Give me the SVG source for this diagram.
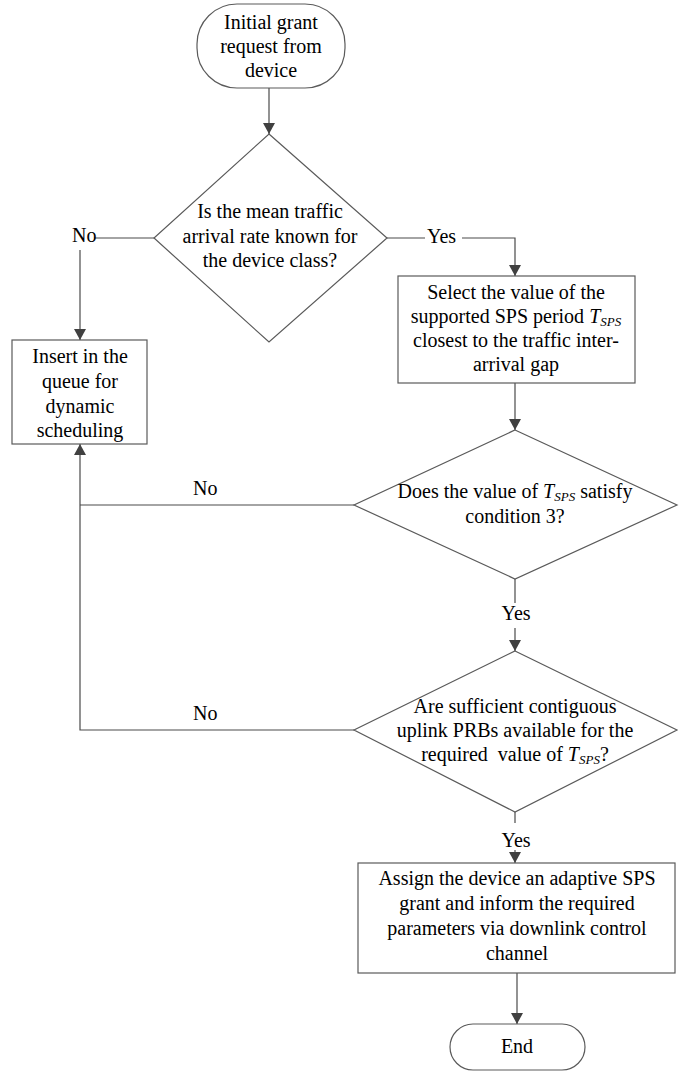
<svg xmlns="http://www.w3.org/2000/svg" width="696" height="1072" viewBox="0 0 696 1072">
<defs>
<style>
.s{fill:#fff;stroke:#5a5a5a;stroke-width:1.2}
.c{fill:none;stroke:#4a4a4a;stroke-width:1.2}
text{font-family:"Liberation Serif","Times New Roman",serif;font-size:20px;fill:#000}
.m{text-anchor:middle}
.i{font-style:italic}
.sub{font-style:italic;font-size:13px}
</style>
<marker id="a" markerWidth="11" markerHeight="12" refX="11" refY="6" orient="auto" markerUnits="userSpaceOnUse">
<path d="M0,0 L11,6 L0,12 z" fill="#404040"/>
</marker>
</defs>
<rect width="696" height="1072" fill="#fff"/>
<g id="connectors">
<line class="c" x1="269" y1="88" x2="269" y2="134" marker-end="url(#a)"/>
<line class="c" x1="154" y1="238" x2="94" y2="238"/>
<line class="c" x1="80" y1="250" x2="80" y2="340" marker-end="url(#a)"/>
<line class="c" x1="387" y1="238" x2="425" y2="238"/>
<polyline class="c" points="462,238 515,238 515,276" marker-end="url(#a)"/>
<line class="c" x1="515" y1="383" x2="515" y2="430" marker-end="url(#a)"/>
<polyline class="c" points="354,505 80,505"/>
<polyline class="c" points="354,730 80,730 80,444" marker-end="url(#a)"/>
<line class="c" x1="515" y1="579" x2="515" y2="603"/>
<line class="c" x1="515" y1="628" x2="515" y2="651" marker-end="url(#a)"/>
<line class="c" x1="515" y1="812" x2="515" y2="823"/>
<line class="c" x1="515" y1="850" x2="515" y2="863" marker-end="url(#a)"/>
<line class="c" x1="517" y1="973" x2="517" y2="1024" marker-end="url(#a)"/>
<text x="72" y="242">No</text>
<text x="427" y="243">Yes</text>
<text x="193" y="495">No</text>
<text x="516" y="620" class="m">Yes</text>
<text x="193" y="720">No</text>
<text x="516" y="847" class="m">Yes</text>
</g>
<g id="start">
<rect class="s" x="197" y="4" width="148" height="84" rx="40" ry="40"/>
<text class="m" x="271" y="29">Initial grant</text>
<text class="m" x="271" y="53">request from</text>
<text class="m" x="271" y="77">device</text>
</g>
<g id="d1">
<polygon class="s" points="269,134 387,238 269,342 154,238"/>
<text class="m" x="270" y="218">Is the mean traffic</text>
<text class="m" x="270" y="243">arrival rate known for</text>
<text class="m" x="270" y="267">the device class?</text>
</g>
<g id="insert">
<rect class="s" x="12" y="340" width="135" height="104"/>
<text class="m" x="80" y="363">Insert in the</text>
<text class="m" x="80" y="388">queue for</text>
<text class="m" x="80" y="413">dynamic</text>
<text class="m" x="80" y="437">scheduling</text>
</g>
<g id="select">
<rect class="s" x="398" y="276" width="237" height="107"/>
<text class="m" x="516" y="299">Select the value of the</text>
<text class="m" x="516" y="323">supported SPS period <tspan class="i">T</tspan><tspan class="sub" dy="3">SPS</tspan></text>
<text class="m" x="516" y="347">closest to the traffic inter-</text>
<text class="m" x="516" y="371">arrival gap</text>
</g>
<g id="d2">
<polygon class="s" points="515,430 677,505 515,579 354,505"/>
<text class="m" x="515" y="498">Does the value of <tspan class="i">T</tspan><tspan class="sub" dy="3">SPS</tspan><tspan dy="-3"> satisfy</tspan></text>
<text class="m" x="515" y="523">condition 3?</text>
</g>
<g id="d3">
<polygon class="s" points="515,651 677,730 515,812 354,730"/>
<text class="m" x="515" y="713">Are sufficient contiguous</text>
<text class="m" x="515" y="737">uplink PRBs available for the</text>
<text class="m" x="515" y="761" xml:space="preserve">required  value of <tspan class="i">T</tspan><tspan class="sub" dy="3">SPS</tspan><tspan dy="-3">?</tspan></text>
</g>
<g id="assign">
<rect class="s" x="358" y="863" width="317" height="110"/>
<text class="m" x="517" y="885">Assign the device an adaptive SPS</text>
<text class="m" x="517" y="910">grant and inform the required</text>
<text class="m" x="517" y="935">parameters via downlink control</text>
<text class="m" x="517" y="960">channel</text>
</g>
<g id="end">
<rect class="s" x="450" y="1024" width="135" height="46" rx="23" ry="23"/>
<text class="m" x="517" y="1053">End</text>
</g>
</svg>
